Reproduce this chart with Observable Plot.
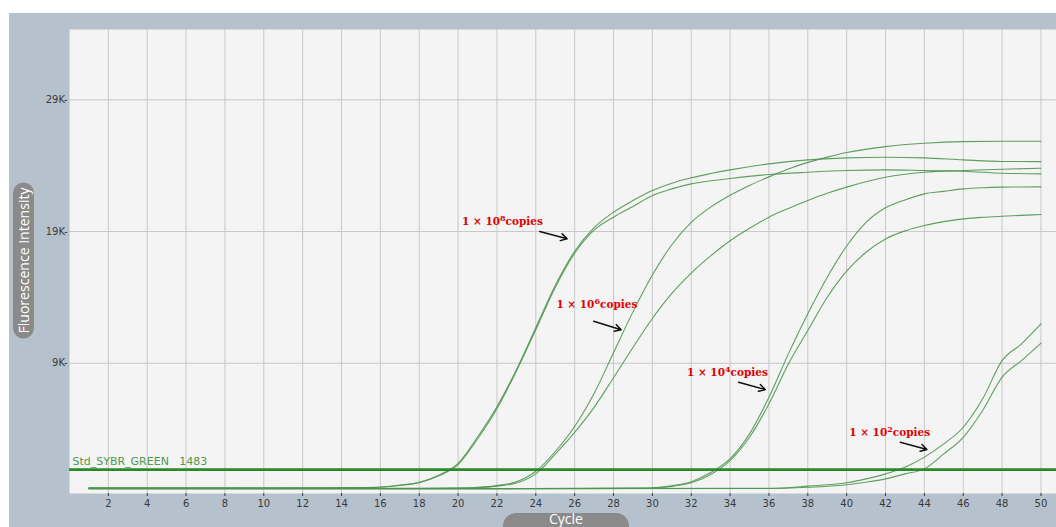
<!DOCTYPE html>
<html>
<head>
<meta charset="utf-8">
<script src="https://cdn.jsdelivr.net/npm/d3@7"></script>
<script src="https://cdn.jsdelivr.net/npm/@observablehq/plot@0.6"></script>
<style>
  html, body { margin: 0; padding: 0; background: #ffffff; }
  #chart { width: 1056px; height: 527px; position: relative; overflow: hidden; }
</style>
</head>
<body>
<div id="chart"></div>
<script>
// ---- Tick labels ----
const xTicks = [2, 4, 6, 8, 10, 12, 14, 16, 18, 20, 22, 24, 26, 28, 30, 32, 34, 36, 38, 40, 42, 44, 46, 48, 50];
const yTicks = [9000, 19000, 29000];

// ---- Threshold ----
const thresholdValue = 930;
const thresholdLabel = "Std_SYBR_GREEN   1483";

// ---- Amplification curves (cycle, fluorescence) ----
const cyclesA = [1, 8, 14, 15, 16, 17, 18, 19, 20, 21, 22, 23, 24, 25, 26, 27, 28, 29, 30, 31, 32, 33, 34, 36, 38, 40, 42, 44, 46, 48, 50];
const a1 = [-460, -465, -455, -440, -400, -250, -40, 500, 1400, 3400, 5700, 8500, 11700, 14900, 17500, 19300, 20470, 21350, 22110, 22670, 23080, 23400, 23680, 24140, 24440, 24590, 24640, 24590, 24440, 24320, 24310];
const a2 = [-470, -470, -460, -450, -420, -280, -80, 450, 1300, 3250, 5550, 8400, 11550, 14750, 17350, 19100, 20090, 20900, 21730, 22240, 22620, 22850, 23030, 23330, 23500, 23630, 23680, 23630, 23580, 23430, 23380];

const cyclesB = [1, 10, 18, 20, 21, 22, 23, 24, 25, 26, 27, 28, 29, 30, 31, 32, 33, 34, 35, 36, 37, 38, 39, 40, 42, 44, 46, 48, 50];
const b1 = [-500, -505, -495, -470, -420, -290, 0, 800, 2300, 4200, 6700, 9800, 12900, 15700, 18000, 19700, 20850, 21750, 22500, 23150, 23750, 24250, 24650, 25000, 25450, 25700, 25830, 25860, 25860];
const b2 = [-510, -515, -505, -485, -450, -330, -100, 600, 2100, 3750, 5650, 7900, 10200, 12400, 14300, 15850, 17150, 18300, 19250, 20090, 20750, 21350, 21900, 22370, 23120, 23500, 23630, 23730, 23810];

const cyclesC = [1, 12, 24, 29, 30, 31, 32, 33, 34, 35, 36, 37, 38, 39, 40, 41, 42, 43, 44, 45, 46, 47, 48, 49, 50];
const c1 = [-520, -525, -515, -480, -450, -300, 0, 700, 1750, 3640, 6420, 9710, 12750, 15530, 17900, 19700, 20800, 21400, 21860, 22050, 22240, 22330, 22370, 22380, 22390];
const c2 = [-530, -535, -525, -500, -480, -350, -80, 550, 1600, 3380, 5920, 8950, 11480, 14010, 16000, 17430, 18440, 19050, 19460, 19750, 19960, 20080, 20160, 20230, 20290];

const cyclesD = [1, 20, 36, 38, 40, 41, 42, 43, 44, 45, 46, 47, 48, 49, 50];
const d1 = [-500, -510, -490, -330, -80, 220, 600, 1100, 1870, 2880, 4140, 6300, 9200, 10470, 11990];
const d2 = [-520, -525, -510, -420, -220, -30, 220, 600, 980, 2120, 3380, 5410, 7940, 9200, 10520];

// ---- Annotations ----
const annLabels = ["1 × 10⁸copies", "1 × 10⁶copies", "1 × 10⁴copies", "1 × 10²copies"];
const annX = [20.2, 25.06, 31.78, 40.13];
const annY = [19760, 13430, 8270, 3760];
const arrowX1 = [24.2, 26.98, 34.44, 42.76];
const arrowY1 = [19000, 12190, 7560, 3000];
const arrowX2 = [25.61, 28.39, 35.81, 44.13];
const arrowY2 = [18450, 11540, 7000, 2450];

// ---- Build tables ----
const seriesList = [
  ["1e8 a", cyclesA, a1], ["1e8 b", cyclesA, a2],
  ["1e6 a", cyclesB, b1], ["1e6 b", cyclesB, b2],
  ["1e4 a", cyclesC, c1], ["1e4 b", cyclesC, c2],
  ["1e2 a", cyclesD, d1], ["1e2 b", cyclesD, d2]
];
const rows = seriesList.flatMap(([name, cs, vs]) => cs.map((c, i) => ({series: name, cycle: c, value: vs[i]})));
const anns = annLabels.map((t, i) => ({text: t, x: annX[i], y: annY[i]}));
const arrows = annLabels.map((t, i) => ({x1: arrowX1[i], y1: arrowY1[i], x2: arrowX2[i], y2: arrowY2[i]}));

const plot = Plot.plot({
  width: 1056,
  height: 527,
  marginLeft: 69,
  marginRight: 0,
  marginTop: 29,
  marginBottom: 34,
  style: {fontFamily: "DejaVu Sans", fontSize: "10px", background: "transparent", overflow: "visible"},
  x: {domain: [0, 50.8]},
  y: {domain: [-890, 34340]},
  marks: [
    Plot.frame({fill: "#f4f4f4", stroke: null}),
    Plot.gridX(xTicks, {stroke: "#c8c8c8", strokeOpacity: 1, strokeWidth: 1}),
    Plot.gridY(yTicks, {stroke: "#c8c8c8", strokeOpacity: 1, strokeWidth: 1}),
    Plot.line(rows, {x: "cycle", y: "value", z: "series", stroke: "#4e964e", strokeWidth: 1.1, strokeOpacity: 0.9, curve: "monotone-x"}),
    Plot.ruleY([thresholdValue], {stroke: "#2a8a2a", strokeWidth: 2.7}),
    Plot.text([thresholdLabel], {x: 0.15, y: thresholdValue, dy: -8, text: d => d, textAnchor: "start", lineAnchor: "middle", fill: "#4f9a4f", fontSize: 11, fontFamily: "DejaVu Sans"}),
    Plot.text(anns, {x: "x", y: "y", text: "text", textAnchor: "start", lineAnchor: "middle", fill: "#e00000", fontSize: 10.5, fontWeight: "bold", fontFamily: "DejaVu Serif"}),
    Plot.arrow(arrows, {x1: "x1", y1: "y1", x2: "x2", y2: "y2", stroke: "#111", strokeWidth: 1.5, headLength: 7, bend: false}),
    Plot.axisX(xTicks, {tickSize: 3, tickPadding: 3, color: "#3a3a3a", fontSize: 10, label: null}),
    Plot.axisY(yTicks, {tickSize: 0, tickPadding: 2, color: "#3a3a3a", fontSize: 10, label: null, tickFormat: d => `${d / 1000}K-`})
  ]
});

const svg = d3.select(plot);
// blue-grey panel background
svg.insert("rect", ":first-child")
  .attr("x", 9).attr("y", 13).attr("width", 1047).attr("height", 514)
  .attr("fill", "#b5c2ce");

// render superscripts of the annotation labels at a larger size
const supMap = {"⁰": "0", "¹": "1", "²": "2", "³": "3", "⁴": "4", "⁵": "5", "⁶": "6", "⁷": "7", "⁸": "8", "⁹": "9"};
svg.selectAll("text").filter(function () { return this.textContent.includes("copies"); }).each(function () {
  const t = this.textContent;
  const m = t.match(/^(.*10)(.)(copies)$/);
  if (!m) return;
  const el = d3.select(this);
  el.text(null);
  el.append("tspan").text(m[1]);
  el.append("tspan").attr("font-size", 8).attr("dy", -4).text(supMap[m[2]] || m[2]);
  el.append("tspan").attr("dy", 4).text(m[3]);
});

// Y-axis pill label
const yl = svg.append("g").attr("transform", "translate(23.5,260.5) rotate(-90)");
yl.append("rect").attr("x", -78).attr("y", -10.5).attr("width", 156).attr("height", 21).attr("rx", 10.5)
  .attr("fill", "#8a8a8a");
yl.append("text").attr("text-anchor", "middle").attr("dy", "0.36em")
  .attr("fill", "#ffffff").attr("font-family", "Open Sans").attr("font-size", 14)
  .attr("textLength", 146).attr("lengthAdjust", "spacingAndGlyphs")
  .text("Fluorescence Intensity");

// X-axis pill label
const xl = svg.append("g");
xl.append("rect").attr("x", 503).attr("y", 513).attr("width", 126).attr("height", 28).attr("rx", 13)
  .attr("fill", "#8a8a8a");
xl.append("text").attr("x", 566).attr("y", 524).attr("text-anchor", "middle")
  .attr("fill", "#ffffff").attr("font-family", "Open Sans").attr("font-size", 14)
  .text("Cycle");

document.getElementById("chart").appendChild(plot);
</script>
</body>
</html>
